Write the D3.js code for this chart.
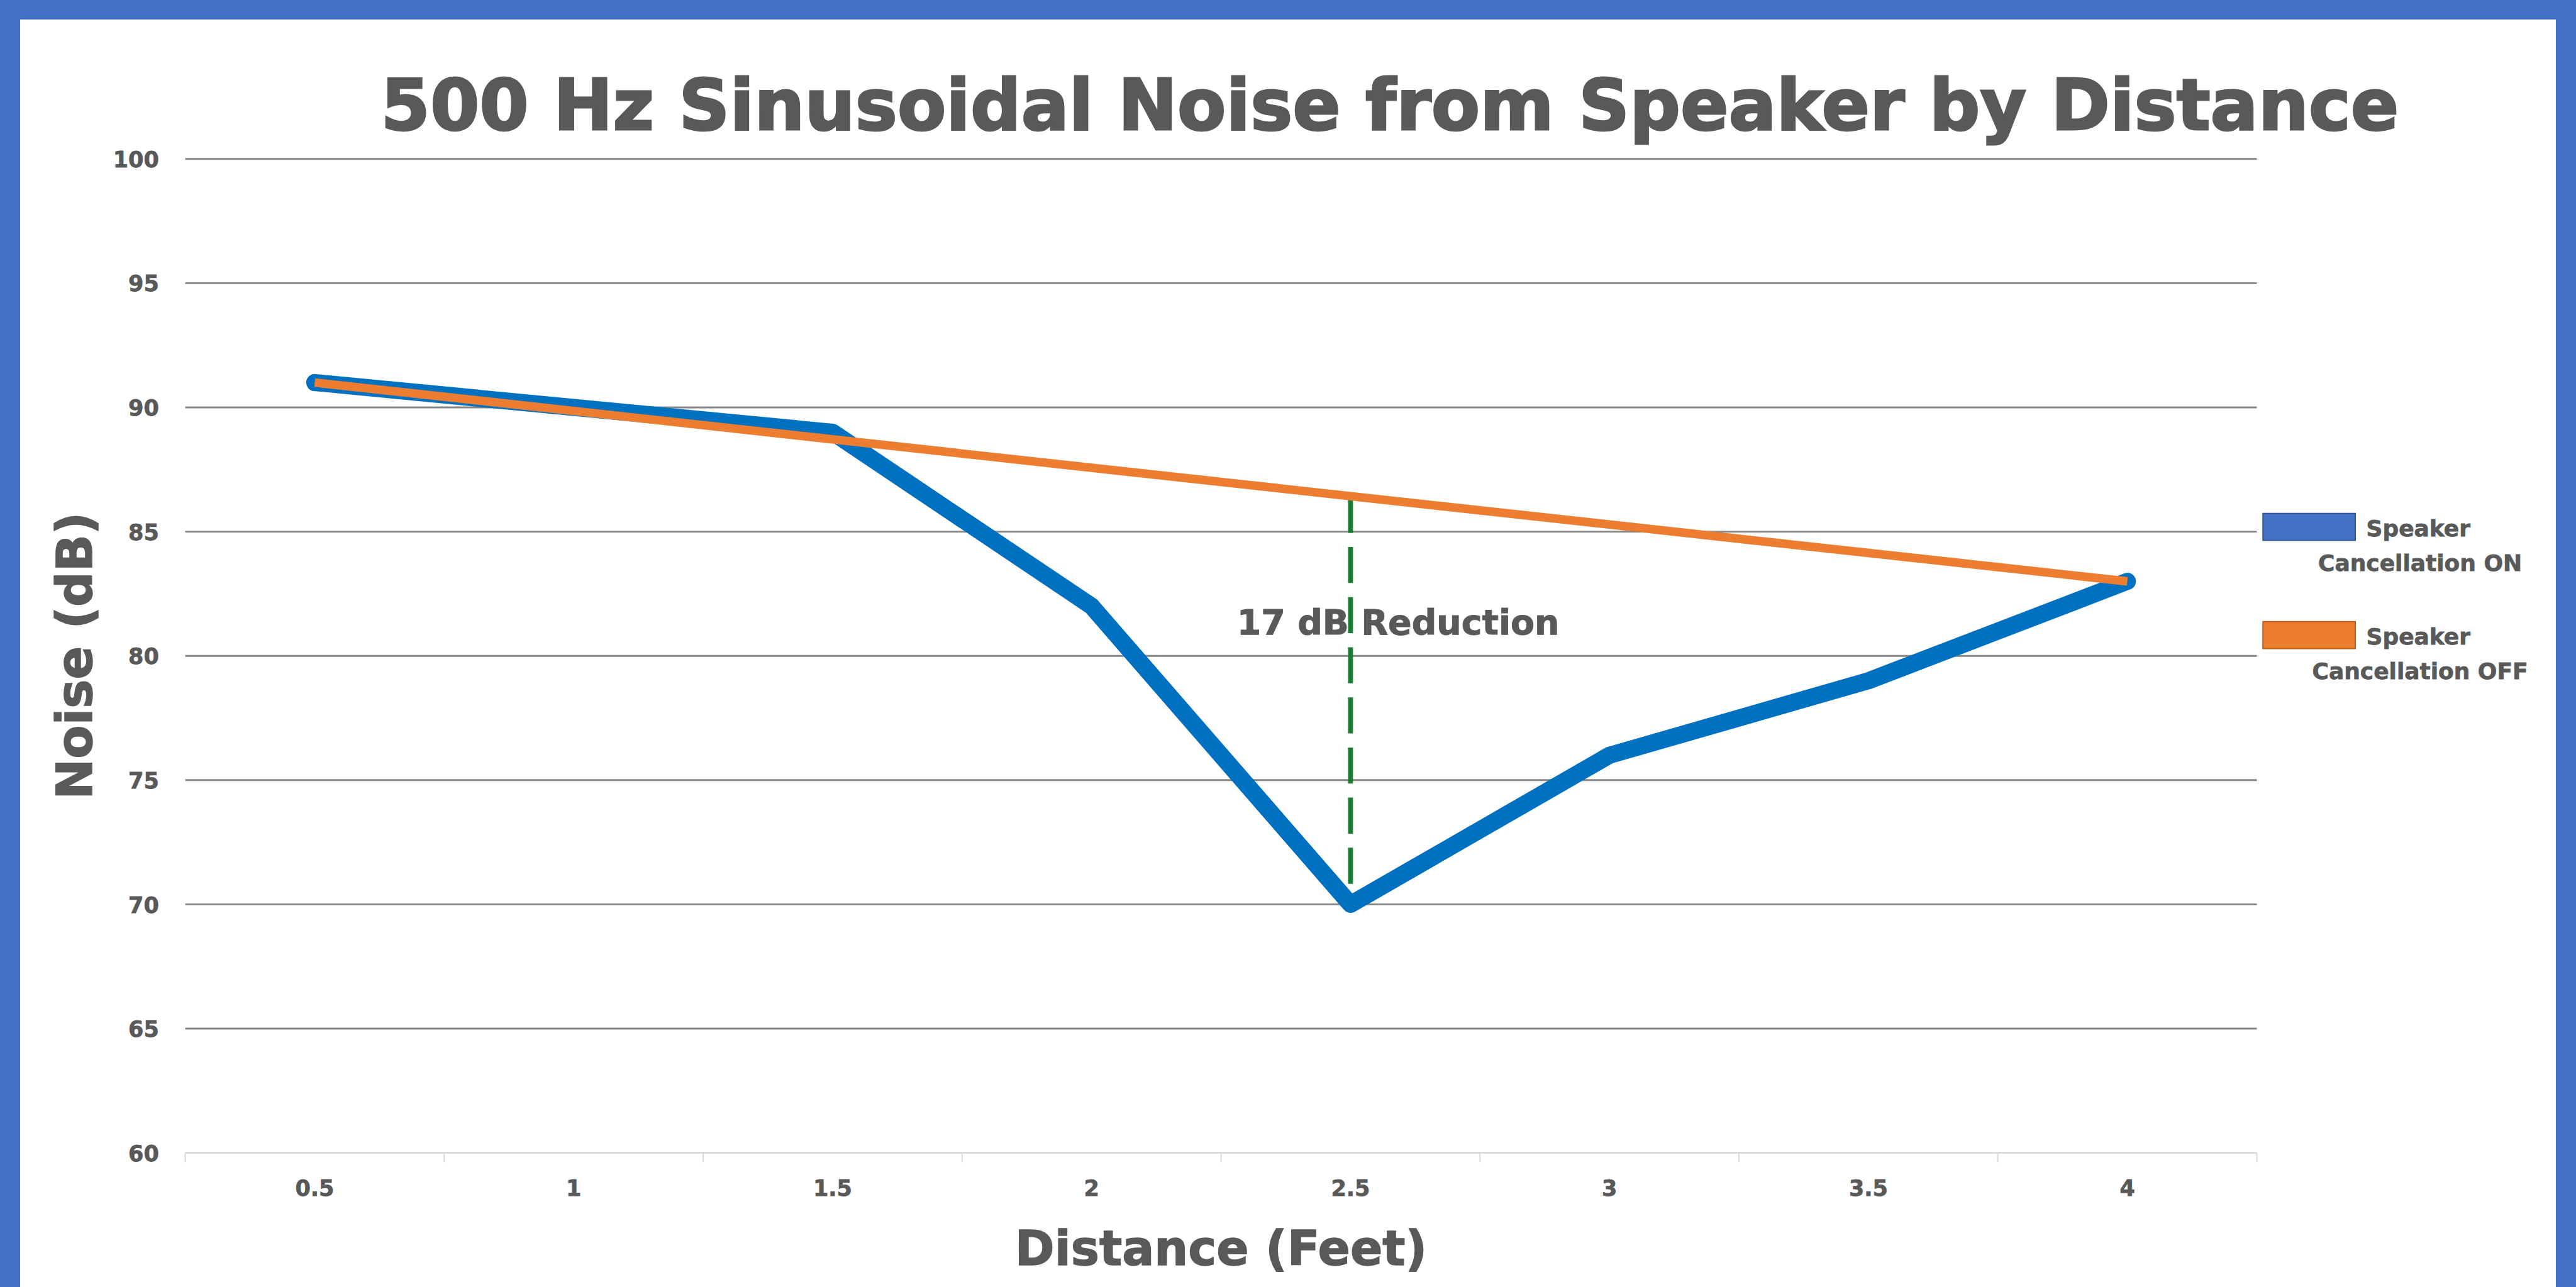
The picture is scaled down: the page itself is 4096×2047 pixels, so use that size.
<!DOCTYPE html>
<html>
<head>
<meta charset="utf-8">
<script src="https://cdn.jsdelivr.net/npm/d3@7"></script>
<style>
  html, body { margin: 0; padding: 0; background: #fff; overflow: hidden; }
  svg { display: block; }
  text { font-family: "DejaVu Sans", sans-serif; font-weight: bold; fill: #595959; }
</style>
</head>
<body>
<script>
"use strict";

// chart data
const distances = ["0.5", "1", "1.5", "2", "2.5", "3", "3.5", "4"];
const noiseOn = [91, 90, 89, 82, 70, 76, 79, 83];
const noiseOff = [91, null, null, null, null, null, null, 83];   // only end points, gaps joined
const yTicks = [60, 65, 70, 75, 80, 85, 90, 95, 100];
const seriesNames = [["Speaker", "Cancellation ON"], ["Speaker", "Cancellation OFF"]];
const reductionAt = "2.5";
const reductionFrom = 86.4;
const reductionTo = 70;
const reductionLabel = "17 dB Reduction";

(function() {
    const W = 4096, H = 2047;
    const K = W / 4213;          // reference was 4213 wide
    const s = v => v * K;

    const svg = d3.select("body").append("svg")
        .attr("width", W)
        .attr("height", H);

    // frame
    svg.append("rect").attr("width", W).attr("height", H).attr("fill", "#4472C4");
    svg.append("rect")
        .attr("x", s(33)).attr("y", s(32))
        .attr("width", s(4180 - 33)).attr("height", H)
        .attr("fill", "#fff");

    const x = d3.scaleBand().domain(distances).range([s(303), s(3691)]).padding(0);
    const y = d3.scaleLinear().domain([60, 100]).range([s(1886), s(260)]);
    const cx = d => x(d) + x.bandwidth() / 2;

    // gridlines
    svg.append("g").selectAll("line")
        .data(yTicks)
        .enter()
        .append("line")
            .attr("x1", s(303)).attr("x2", s(3691))
            .attr("y1", d => y(d)).attr("y2", d => y(d))
            .attr("stroke", d => d === 60 ? "#d9d9d9" : "#858585")
            .attr("stroke-width", s(3));

    // category boundary ticks
    const bounds = distances.map(d => x(d)).concat([x(distances[distances.length - 1]) + x.bandwidth()]);
    svg.append("g").selectAll("line")
        .data(bounds)
        .enter()
        .append("line")
            .attr("x1", d => d).attr("x2", d => d)
            .attr("y1", y(60)).attr("y2", y(60) + s(15))
            .attr("stroke", "#d9d9d9")
            .attr("stroke-width", s(2));

    // axes (labels only)
    const yAxis = svg.append("g")
        .attr("transform", `translate(${s(303)},0)`)
        .call(d3.axisLeft(y).tickValues(yTicks).tickSize(0).tickPadding(s(43)));
    yAxis.select(".domain").remove();
    yAxis.selectAll("text")
        .attr("font-size", s(36))
        .attr("font-family", null)
        .attr("dy", "0.36em");

    const xAxis = svg.append("g")
        .attr("transform", `translate(0,${y(60)})`)
        .call(d3.axisBottom(x).tickSize(0).tickPadding(0));
    xAxis.select(".domain").remove();
    xAxis.selectAll("text")
        .attr("font-size", s(36))
        .attr("font-family", null)
        .attr("dy", null)
        .attr("y", s(1956 - 1886));
    svg.selectAll(".tick text")
        .attr("fill", "#595959")
        .attr("stroke", "#595959")
        .attr("stroke-width", s(0.8));

    // axis titles
    svg.append("text")
        .attr("transform", `translate(${s(150)},${(y(60) + y(100)) / 2}) rotate(-90)`)
        .attr("text-anchor", "middle")
        .attr("font-size", s(80))
        .attr("stroke", "#595959")
        .attr("stroke-width", s(1.5))
        .text("Noise (dB)");

    svg.append("text")
        .attr("x", (s(303) + s(3691)) / 2)
        .attr("y", s(2069))
        .attr("text-anchor", "middle")
        .attr("font-size", s(78))
        .attr("stroke", "#595959")
        .attr("stroke-width", s(1.5))
        .text("Distance (Feet)");

    // title
    svg.append("text")
        .attr("x", s(2273))
        .attr("y", s(212))
        .attr("text-anchor", "middle")
        .attr("font-size", s(116))
        .attr("stroke", "#595959")
        .attr("stroke-width", s(3))
        .text("500 Hz Sinusoidal Noise from Speaker by Distance");

    // reduction marker
    svg.append("line")
        .attr("x1", cx(reductionAt)).attr("x2", cx(reductionAt))
        .attr("y1", y(reductionFrom)).attr("y2", y(reductionTo))
        .attr("stroke", "#1e7d32")
        .attr("stroke-width", s(8))
        .attr("stroke-dasharray", `${s(59)} ${s(23)}`);

    svg.append("text")
        .attr("x", s(2023))
        .attr("y", s(1038))
        .attr("font-size", s(57))
        .attr("stroke", "#595959")
        .attr("stroke-width", s(1))
        .text(reductionLabel);

    // series
    const line = d3.line()
        .x(d => cx(d.x))
        .y(d => y(d.v));

    const onPts = distances.map((d, i) => ({ x: d, v: noiseOn[i] }));
    const offPts = distances.map((d, i) => ({ x: d, v: noiseOff[i] })).filter(d => d.v != null);

    svg.append("path")
        .attr("d", line(onPts))
        .attr("fill", "none")
        .attr("stroke", "#0070C0")
        .attr("stroke-width", s(28))
        .attr("stroke-linejoin", "round")
        .attr("stroke-linecap", "round");

    svg.append("path")
        .attr("d", line(offPts))
        .attr("fill", "none")
        .attr("stroke", "#ED7D31")
        .attr("stroke-width", s(14))
        .attr("stroke-linecap", "butt");

    // legend
    const legendColors = [["#4472C4", "#2F5597"], ["#ED7D31", "#C55A11"]];
    const legendTop = [840, 1017];
    const legend = svg.append("g").selectAll("g")
        .data(seriesNames)
        .enter()
        .append("g");

    legend.append("rect")
        .attr("x", s(3701))
        .attr("y", (d, i) => s(legendTop[i]))
        .attr("width", s(151))
        .attr("height", s(44))
        .attr("fill", (d, i) => legendColors[i][0])
        .attr("stroke", (d, i) => legendColors[i][1])
        .attr("stroke-width", s(2));

    legend.each(function(d, i) {
        d3.select(this).selectAll("text.lbl")
            .data(d)
            .enter()
            .append("text")
                .attr("class", "lbl")
                .attr("x", (t, j) => j === 0 ? s(3870) : s(3958))
                .attr("y", (t, j) => s(legendTop[i] + 37 + j * 57))
                .attr("text-anchor", (t, j) => j === 0 ? "start" : "middle")
                .attr("font-size", s(37))
                .attr("stroke", "#595959")
                .attr("stroke-width", s(0.8))
                .text(t => t);
    });
})();
</script>
</body>
</html>
